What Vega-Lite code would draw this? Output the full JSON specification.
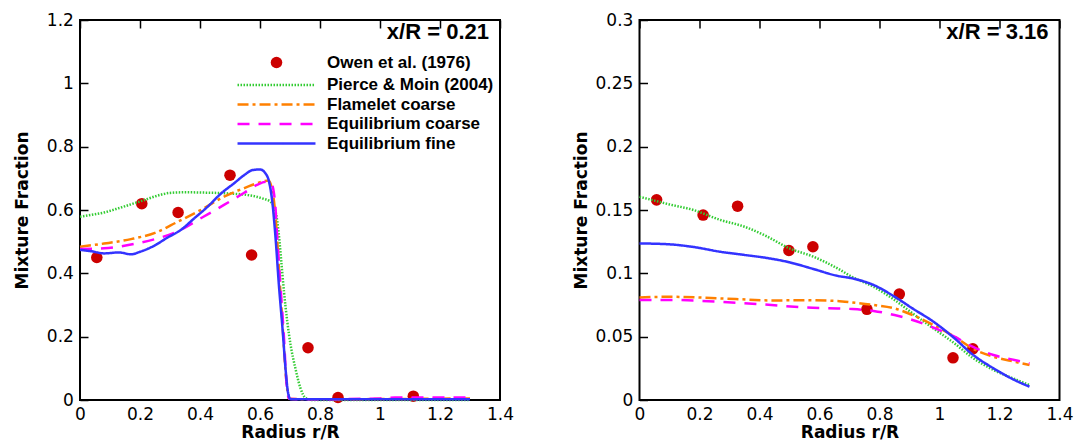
{
  "$schema": "https://vega.github.io/schema/vega-lite/v6.json",
  "background": "white",
  "padding": {"left": 12, "top": 10, "right": 0, "bottom": 0},
  "config": {
    "view": {"stroke": "black", "strokeWidth": 2},
    "axis": {"domain": false, "ticks": false, "grid": true, "zindex": 1, "labelFont": "DejaVu Sans", "labelFontSize": 17, "labelColor": "black", "titleFont": "DejaVu Sans", "titleFontSize": 17, "titleFontWeight": "bold", "titleColor": "black", "gridColor": "black", "gridOpacity": 1, "labelFlush": false, "labelOverlap": false},
    "legend": {"padding": 0}
  },
  "datasets": {
    "left": [
      {"series": "Owen et al. (1976)", "r": 0.056, "z": 0.45},
      {"series": "Owen et al. (1976)", "r": 0.206, "z": 0.62},
      {"series": "Owen et al. (1976)", "r": 0.327, "z": 0.592},
      {"series": "Owen et al. (1976)", "r": 0.5, "z": 0.71},
      {"series": "Owen et al. (1976)", "r": 0.572, "z": 0.458},
      {"series": "Owen et al. (1976)", "r": 0.76, "z": 0.165},
      {"series": "Owen et al. (1976)", "r": 0.86, "z": 0.008},
      {"series": "Owen et al. (1976)", "r": 1.111, "z": 0.012},
      {"series": "Pierce & Moin (2004)", "r": 0, "z": 0.579},
      {"series": "Pierce & Moin (2004)", "r": 0.04, "z": 0.585},
      {"series": "Pierce & Moin (2004)", "r": 0.08, "z": 0.592},
      {"series": "Pierce & Moin (2004)", "r": 0.12, "z": 0.603},
      {"series": "Pierce & Moin (2004)", "r": 0.17, "z": 0.618},
      {"series": "Pierce & Moin (2004)", "r": 0.21, "z": 0.63},
      {"series": "Pierce & Moin (2004)", "r": 0.25, "z": 0.643},
      {"series": "Pierce & Moin (2004)", "r": 0.3, "z": 0.654},
      {"series": "Pierce & Moin (2004)", "r": 0.35, "z": 0.656},
      {"series": "Pierce & Moin (2004)", "r": 0.41, "z": 0.655},
      {"series": "Pierce & Moin (2004)", "r": 0.5, "z": 0.652},
      {"series": "Pierce & Moin (2004)", "r": 0.56, "z": 0.647},
      {"series": "Pierce & Moin (2004)", "r": 0.61, "z": 0.636},
      {"series": "Pierce & Moin (2004)", "r": 0.635, "z": 0.626},
      {"series": "Pierce & Moin (2004)", "r": 0.652, "z": 0.595},
      {"series": "Pierce & Moin (2004)", "r": 0.663, "z": 0.521},
      {"series": "Pierce & Moin (2004)", "r": 0.671, "z": 0.437},
      {"series": "Pierce & Moin (2004)", "r": 0.68, "z": 0.342},
      {"series": "Pierce & Moin (2004)", "r": 0.691, "z": 0.247},
      {"series": "Pierce & Moin (2004)", "r": 0.702, "z": 0.174},
      {"series": "Pierce & Moin (2004)", "r": 0.718, "z": 0.1},
      {"series": "Pierce & Moin (2004)", "r": 0.735, "z": 0.037},
      {"series": "Pierce & Moin (2004)", "r": 0.752, "z": 0.006},
      {"series": "Pierce & Moin (2004)", "r": 0.77, "z": 0},
      {"series": "Pierce & Moin (2004)", "r": 1.3, "z": 0},
      {"series": "Flamelet coarse", "r": 0, "z": 0.484},
      {"series": "Flamelet coarse", "r": 0.08, "z": 0.494},
      {"series": "Flamelet coarse", "r": 0.17, "z": 0.508},
      {"series": "Flamelet coarse", "r": 0.25, "z": 0.528},
      {"series": "Flamelet coarse", "r": 0.32, "z": 0.56},
      {"series": "Flamelet coarse", "r": 0.41, "z": 0.604},
      {"series": "Flamelet coarse", "r": 0.48, "z": 0.642},
      {"series": "Flamelet coarse", "r": 0.55, "z": 0.67},
      {"series": "Flamelet coarse", "r": 0.61, "z": 0.69},
      {"series": "Flamelet coarse", "r": 0.628, "z": 0.693},
      {"series": "Flamelet coarse", "r": 0.645, "z": 0.64},
      {"series": "Flamelet coarse", "r": 0.655, "z": 0.54},
      {"series": "Flamelet coarse", "r": 0.664, "z": 0.4},
      {"series": "Flamelet coarse", "r": 0.675, "z": 0.24},
      {"series": "Flamelet coarse", "r": 0.686, "z": 0.08},
      {"series": "Flamelet coarse", "r": 0.697, "z": 0.005},
      {"series": "Flamelet coarse", "r": 0.75, "z": 0.002},
      {"series": "Flamelet coarse", "r": 1.0, "z": 0.003},
      {"series": "Flamelet coarse", "r": 1.3, "z": 0.005},
      {"series": "Equilibrium coarse", "r": 0, "z": 0.477},
      {"series": "Equilibrium coarse", "r": 0.08, "z": 0.479},
      {"series": "Equilibrium coarse", "r": 0.17, "z": 0.491},
      {"series": "Equilibrium coarse", "r": 0.25, "z": 0.508},
      {"series": "Equilibrium coarse", "r": 0.32, "z": 0.53},
      {"series": "Equilibrium coarse", "r": 0.41, "z": 0.578},
      {"series": "Equilibrium coarse", "r": 0.48, "z": 0.616},
      {"series": "Equilibrium coarse", "r": 0.55, "z": 0.656},
      {"series": "Equilibrium coarse", "r": 0.59, "z": 0.679},
      {"series": "Equilibrium coarse", "r": 0.62, "z": 0.689},
      {"series": "Equilibrium coarse", "r": 0.637, "z": 0.685},
      {"series": "Equilibrium coarse", "r": 0.65, "z": 0.626},
      {"series": "Equilibrium coarse", "r": 0.657, "z": 0.52},
      {"series": "Equilibrium coarse", "r": 0.668, "z": 0.363},
      {"series": "Equilibrium coarse", "r": 0.68, "z": 0.195},
      {"series": "Equilibrium coarse", "r": 0.688, "z": 0.058},
      {"series": "Equilibrium coarse", "r": 0.697, "z": 0.004},
      {"series": "Equilibrium coarse", "r": 0.75, "z": 0.002},
      {"series": "Equilibrium coarse", "r": 1.0, "z": 0.005},
      {"series": "Equilibrium coarse", "r": 1.05, "z": 0.008},
      {"series": "Equilibrium coarse", "r": 1.3, "z": 0.008},
      {"series": "Equilibrium fine", "r": 0, "z": 0.474},
      {"series": "Equilibrium fine", "r": 0.036, "z": 0.47},
      {"series": "Equilibrium fine", "r": 0.08, "z": 0.463},
      {"series": "Equilibrium fine", "r": 0.13, "z": 0.466},
      {"series": "Equilibrium fine", "r": 0.17, "z": 0.46},
      {"series": "Equilibrium fine", "r": 0.2, "z": 0.468},
      {"series": "Equilibrium fine", "r": 0.247, "z": 0.487},
      {"series": "Equilibrium fine", "r": 0.29, "z": 0.512},
      {"series": "Equilibrium fine", "r": 0.336, "z": 0.537},
      {"series": "Equilibrium fine", "r": 0.38, "z": 0.573},
      {"series": "Equilibrium fine", "r": 0.425, "z": 0.61},
      {"series": "Equilibrium fine", "r": 0.47, "z": 0.652},
      {"series": "Equilibrium fine", "r": 0.513, "z": 0.684},
      {"series": "Equilibrium fine", "r": 0.547, "z": 0.71},
      {"series": "Equilibrium fine", "r": 0.575, "z": 0.726},
      {"series": "Equilibrium fine", "r": 0.6, "z": 0.728},
      {"series": "Equilibrium fine", "r": 0.618, "z": 0.716},
      {"series": "Equilibrium fine", "r": 0.63, "z": 0.69},
      {"series": "Equilibrium fine", "r": 0.641, "z": 0.626},
      {"series": "Equilibrium fine", "r": 0.652, "z": 0.51},
      {"series": "Equilibrium fine", "r": 0.663, "z": 0.363},
      {"series": "Equilibrium fine", "r": 0.675, "z": 0.226},
      {"series": "Equilibrium fine", "r": 0.686, "z": 0.089},
      {"series": "Equilibrium fine", "r": 0.693, "z": 0.026},
      {"series": "Equilibrium fine", "r": 0.702, "z": 0.002},
      {"series": "Equilibrium fine", "r": 1.3, "z": 0.002}
    ],
    "right": [
      {"series": "Owen et al. (1976)", "r": 0.057, "z": 0.158},
      {"series": "Owen et al. (1976)", "r": 0.212, "z": 0.146},
      {"series": "Owen et al. (1976)", "r": 0.327, "z": 0.153},
      {"series": "Owen et al. (1976)", "r": 0.498, "z": 0.118},
      {"series": "Owen et al. (1976)", "r": 0.578, "z": 0.121},
      {"series": "Owen et al. (1976)", "r": 0.758, "z": 0.0716},
      {"series": "Owen et al. (1976)", "r": 0.866, "z": 0.0836},
      {"series": "Owen et al. (1976)", "r": 1.045, "z": 0.0333},
      {"series": "Owen et al. (1976)", "r": 1.111, "z": 0.0404},
      {"series": "Pierce & Moin (2004)", "r": 0, "z": 0.1605},
      {"series": "Pierce & Moin (2004)", "r": 0.1, "z": 0.1544},
      {"series": "Pierce & Moin (2004)", "r": 0.18, "z": 0.15},
      {"series": "Pierce & Moin (2004)", "r": 0.27, "z": 0.1421},
      {"series": "Pierce & Moin (2004)", "r": 0.35, "z": 0.1368},
      {"series": "Pierce & Moin (2004)", "r": 0.42, "z": 0.1297},
      {"series": "Pierce & Moin (2004)", "r": 0.5, "z": 0.1197},
      {"series": "Pierce & Moin (2004)", "r": 0.58, "z": 0.1131},
      {"series": "Pierce & Moin (2004)", "r": 0.66, "z": 0.1039},
      {"series": "Pierce & Moin (2004)", "r": 0.71, "z": 0.097},
      {"series": "Pierce & Moin (2004)", "r": 0.78, "z": 0.0894},
      {"series": "Pierce & Moin (2004)", "r": 0.85, "z": 0.079},
      {"series": "Pierce & Moin (2004)", "r": 0.91, "z": 0.0684},
      {"series": "Pierce & Moin (2004)", "r": 0.98, "z": 0.0565},
      {"series": "Pierce & Moin (2004)", "r": 1.05, "z": 0.0447},
      {"series": "Pierce & Moin (2004)", "r": 1.11, "z": 0.0334},
      {"series": "Pierce & Moin (2004)", "r": 1.18, "z": 0.0237},
      {"series": "Pierce & Moin (2004)", "r": 1.25, "z": 0.0166},
      {"series": "Pierce & Moin (2004)", "r": 1.3, "z": 0.0118},
      {"series": "Flamelet coarse", "r": 0, "z": 0.081},
      {"series": "Flamelet coarse", "r": 0.1, "z": 0.0815},
      {"series": "Flamelet coarse", "r": 0.21, "z": 0.0808},
      {"series": "Flamelet coarse", "r": 0.32, "z": 0.0797},
      {"series": "Flamelet coarse", "r": 0.44, "z": 0.0786},
      {"series": "Flamelet coarse", "r": 0.55, "z": 0.0788},
      {"series": "Flamelet coarse", "r": 0.66, "z": 0.0782},
      {"series": "Flamelet coarse", "r": 0.71, "z": 0.077},
      {"series": "Flamelet coarse", "r": 0.78, "z": 0.075},
      {"series": "Flamelet coarse", "r": 0.85, "z": 0.0723},
      {"series": "Flamelet coarse", "r": 0.91, "z": 0.0671},
      {"series": "Flamelet coarse", "r": 0.98, "z": 0.0592},
      {"series": "Flamelet coarse", "r": 1.05, "z": 0.05},
      {"series": "Flamelet coarse", "r": 1.11, "z": 0.0407},
      {"series": "Flamelet coarse", "r": 1.18, "z": 0.0342},
      {"series": "Flamelet coarse", "r": 1.25, "z": 0.0302},
      {"series": "Flamelet coarse", "r": 1.3, "z": 0.0276},
      {"series": "Equilibrium coarse", "r": 0, "z": 0.079},
      {"series": "Equilibrium coarse", "r": 0.1, "z": 0.079},
      {"series": "Equilibrium coarse", "r": 0.21, "z": 0.0782},
      {"series": "Equilibrium coarse", "r": 0.32, "z": 0.0768},
      {"series": "Equilibrium coarse", "r": 0.44, "z": 0.075},
      {"series": "Equilibrium coarse", "r": 0.55, "z": 0.0731},
      {"series": "Equilibrium coarse", "r": 0.66, "z": 0.0723},
      {"series": "Equilibrium coarse", "r": 0.71, "z": 0.0718},
      {"series": "Equilibrium coarse", "r": 0.78, "z": 0.0703},
      {"series": "Equilibrium coarse", "r": 0.85, "z": 0.0671},
      {"series": "Equilibrium coarse", "r": 0.91, "z": 0.0632},
      {"series": "Equilibrium coarse", "r": 0.98, "z": 0.0571},
      {"series": "Equilibrium coarse", "r": 1.05, "z": 0.05},
      {"series": "Equilibrium coarse", "r": 1.11, "z": 0.0421},
      {"series": "Equilibrium coarse", "r": 1.18, "z": 0.0355},
      {"series": "Equilibrium coarse", "r": 1.25, "z": 0.0316},
      {"series": "Equilibrium coarse", "r": 1.3, "z": 0.0289},
      {"series": "Equilibrium fine", "r": 0, "z": 0.1236},
      {"series": "Equilibrium fine", "r": 0.1, "z": 0.1229},
      {"series": "Equilibrium fine", "r": 0.18, "z": 0.1208},
      {"series": "Equilibrium fine", "r": 0.27, "z": 0.117},
      {"series": "Equilibrium fine", "r": 0.35, "z": 0.1145},
      {"series": "Equilibrium fine", "r": 0.42, "z": 0.1123},
      {"series": "Equilibrium fine", "r": 0.5, "z": 0.1087},
      {"series": "Equilibrium fine", "r": 0.58, "z": 0.1034},
      {"series": "Equilibrium fine", "r": 0.66, "z": 0.098},
      {"series": "Equilibrium fine", "r": 0.71, "z": 0.096},
      {"series": "Equilibrium fine", "r": 0.78, "z": 0.0908},
      {"series": "Equilibrium fine", "r": 0.85, "z": 0.0816},
      {"series": "Equilibrium fine", "r": 0.91, "z": 0.0723},
      {"series": "Equilibrium fine", "r": 0.98, "z": 0.0618},
      {"series": "Equilibrium fine", "r": 1.05, "z": 0.0487},
      {"series": "Equilibrium fine", "r": 1.11, "z": 0.036},
      {"series": "Equilibrium fine", "r": 1.18, "z": 0.025},
      {"series": "Equilibrium fine", "r": 1.25, "z": 0.0158},
      {"series": "Equilibrium fine", "r": 1.3, "z": 0.0105}
    ]
  },
  "resolve": {
    "scale": {"fill": "independent", "shape": "independent", "stroke": "independent", "strokeDash": "independent"},
    "legend": {"fill": "independent", "shape": "independent", "stroke": "independent", "strokeDash": "independent"}
  },
  "spacing": 56.5,
  "hconcat": [
    {
      "width": 420,
      "height": 380,
      "data": {"name": "left"},
      "title": {"text": "x/R = 0.21", "orient": "top", "anchor": "end", "frame": "group", "offset": 0, "dy": 50, "dx": -11, "baseline": "alphabetic", "font": "Liberation Sans", "fontSize": 22, "fontWeight": "bold", "color": "black"},
      "resolve": {"axis": {"x": "independent", "y": "independent"}},
      "layer": [
        {
          "transform": [{"filter": "datum.series === 'Owen et al. (1976)'"}],
          "mark": {"type": "point", "filled": true, "size": 133, "opacity": 1, "strokeWidth": 0},
          "encoding": {
            "x": {"field": "r", "type": "quantitative", "scale": {"domain": [0, 1.4], "nice": false, "zero": false},
              "axis": {"orient": "bottom", "values": [0, 0.2, 0.4, 0.6, 0.8, 1, 1.2, 1.4], "format": "~g", "gridDash": [8, 2000], "gridWidth": 1.5, "labelPadding": 6, "title": "Radius r/R", "titleX": 210, "titleY": 37, "titleBaseline": "alphabetic"}},
            "y": {"field": "z", "type": "quantitative", "scale": {"domain": [0, 1.2], "nice": false, "zero": false},
              "axis": {"orient": "left", "values": [0, 0.2, 0.4, 0.6, 0.8, 1, 1.2], "format": "~g", "gridDash": [8, 2000], "gridWidth": 1.5, "labelPadding": 6.6, "title": "Mixture Fraction", "titleX": -52.6, "titleY": 190, "titleBaseline": "alphabetic", "titleAngle": -90}},
            "fill": {"field": "series", "type": "nominal",
              "scale": {"domain": ["Owen et al. (1976)", "Pierce & Moin (2004)", "Flamelet coarse", "Equilibrium coarse", "Equilibrium fine"], "range": ["#cc0000", "transparent", "transparent", "transparent", "transparent"]},
              "legend": {"title": null, "orient": "none", "legendX": 188, "legendY": 34, "symbolSize": 133, "symbolStrokeWidth": 2.5, "symbolFillColor": "transparent", "symbolStrokeColor": "transparent", "labelFont": "Liberation Sans", "labelFontSize": 17, "labelFontWeight": "bold", "labelColor": "black", "labelOffset": 42, "rowPadding": 1.5, "labelLimit": 400}},
            "shape": {"field": "series", "type": "nominal",
              "scale": {"domain": ["Owen et al. (1976)", "Pierce & Moin (2004)", "Flamelet coarse", "Equilibrium coarse", "Equilibrium fine"], "range": ["circle", "M-6.76,0H6.76", "M-6.76,0H6.76", "M-6.76,0H6.76", "M-6.76,0H6.76"]},
              "legend": {"title": null, "orient": "none", "legendX": 188, "legendY": 34, "symbolSize": 133, "symbolStrokeWidth": 2.5, "symbolFillColor": "transparent", "symbolStrokeColor": "transparent", "labelFont": "Liberation Sans", "labelFontSize": 17, "labelFontWeight": "bold", "labelColor": "black", "labelOffset": 42, "rowPadding": 1.5, "labelLimit": 400}}
          }
        },
        {
          "transform": [{"filter": "datum.series !== 'Owen et al. (1976)'"}],
          "mark": {"type": "line", "strokeWidth": 2.5, "interpolate": "monotone"},
          "encoding": {
            "x": {"field": "r", "type": "quantitative", "scale": {"domain": [0, 1.4], "nice": false, "zero": false},
              "axis": {"orient": "bottom", "values": [0.04, 0.08, 0.12, 0.16, 0.24, 0.28, 0.32, 0.36, 0.44, 0.48, 0.52, 0.56, 0.64, 0.68, 0.72, 0.76, 0.84, 0.88, 0.92, 0.96, 1.04, 1.08, 1.12, 1.16, 1.24, 1.28, 1.32, 1.36], "labels": false, "title": null, "gridDash": [4, 2000], "gridWidth": 1, "gridColor": "#444444"}},
            "y": {"field": "z", "type": "quantitative", "scale": {"domain": [0, 1.2], "nice": false, "zero": false},
              "axis": {"orient": "left", "values": [0.04, 0.08, 0.12, 0.16, 0.24, 0.28, 0.32, 0.36, 0.44, 0.48, 0.52, 0.56, 0.64, 0.68, 0.72, 0.76, 0.84, 0.88, 0.92, 0.96, 1.04, 1.08, 1.12, 1.16], "labels": false, "title": null, "gridDash": [4, 2000], "gridWidth": 1, "gridColor": "#444444"}},
            "stroke": {"field": "series", "type": "nominal",
              "scale": {"domain": ["Owen et al. (1976)", "Pierce & Moin (2004)", "Flamelet coarse", "Equilibrium coarse", "Equilibrium fine"], "range": ["transparent", "#33cc33", "#ff8000", "#ff00ff", "#3333ff"]},
              "legend": {"title": null, "orient": "none", "legendX": 188, "legendY": 34, "symbolSize": 133, "symbolStrokeWidth": 2.5, "symbolFillColor": "transparent", "symbolStrokeColor": "transparent", "labelFont": "Liberation Sans", "labelFontSize": 17, "labelFontWeight": "bold", "labelColor": "black", "labelOffset": 42, "rowPadding": 1.5, "labelLimit": 400}},
            "strokeDash": {"field": "series", "type": "nominal",
              "scale": {"domain": ["Owen et al. (1976)", "Pierce & Moin (2004)", "Flamelet coarse", "Equilibrium coarse", "Equilibrium fine"], "range": [[1, 0], [1.5, 1.5], [11, 4, 3, 4], [12, 9], [1, 0]]},
              "legend": {"title": null, "orient": "none", "legendX": 188, "legendY": 34, "symbolSize": 133, "symbolStrokeWidth": 2.5, "symbolFillColor": "transparent", "symbolStrokeColor": "transparent", "labelFont": "Liberation Sans", "labelFontSize": 17, "labelFontWeight": "bold", "labelColor": "black", "labelOffset": 42, "rowPadding": 1.5, "labelLimit": 400}}
          }
        }
      ]
    },
    {
      "width": 420,
      "height": 380,
      "data": {"name": "right"},
      "title": {"text": "x/R = 3.16", "orient": "top", "anchor": "end", "frame": "group", "offset": 0, "dy": 50, "dx": -11, "baseline": "alphabetic", "font": "Liberation Sans", "fontSize": 22, "fontWeight": "bold", "color": "black"},
      "resolve": {"axis": {"x": "independent", "y": "independent"}},
      "layer": [
        {
          "transform": [{"filter": "datum.series === 'Owen et al. (1976)'"}],
          "mark": {"type": "point", "filled": true, "size": 133, "opacity": 1, "strokeWidth": 0, "color": "#cc0000"},
          "encoding": {
            "x": {"field": "r", "type": "quantitative", "scale": {"domain": [0, 1.4], "nice": false, "zero": false},
              "axis": {"orient": "bottom", "values": [0, 0.2, 0.4, 0.6, 0.8, 1, 1.2, 1.4], "format": "~g", "gridDash": [8, 2000], "gridWidth": 1.5, "labelPadding": 6, "title": "Radius r/R", "titleX": 210, "titleY": 37, "titleBaseline": "alphabetic"}},
            "y": {"field": "z", "type": "quantitative", "scale": {"domain": [0, 0.3], "nice": false, "zero": false},
              "axis": {"orient": "left", "values": [0, 0.05, 0.1, 0.15, 0.2, 0.25, 0.3], "format": "~g", "gridDash": [8, 2000], "gridWidth": 1.5, "labelPadding": 6.6, "title": "Mixture Fraction", "titleX": -52.6, "titleY": 190, "titleBaseline": "alphabetic", "titleAngle": -90}}
          }
        },
        {
          "transform": [{"filter": "datum.series !== 'Owen et al. (1976)'"}],
          "mark": {"type": "line", "strokeWidth": 2.5, "interpolate": "monotone"},
          "encoding": {
            "x": {"field": "r", "type": "quantitative", "scale": {"domain": [0, 1.4], "nice": false, "zero": false},
              "axis": {"orient": "bottom", "values": [0.04, 0.08, 0.12, 0.16, 0.24, 0.28, 0.32, 0.36, 0.44, 0.48, 0.52, 0.56, 0.64, 0.68, 0.72, 0.76, 0.84, 0.88, 0.92, 0.96, 1.04, 1.08, 1.12, 1.16, 1.24, 1.28, 1.32, 1.36], "labels": false, "title": null, "gridDash": [4, 2000], "gridWidth": 1, "gridColor": "#444444"}},
            "y": {"field": "z", "type": "quantitative", "scale": {"domain": [0, 0.3], "nice": false, "zero": false},
              "axis": {"orient": "left", "values": [0.01, 0.02, 0.03, 0.04, 0.06, 0.07, 0.08, 0.09, 0.11, 0.12, 0.13, 0.14, 0.16, 0.17, 0.18, 0.19, 0.21, 0.22, 0.23, 0.24, 0.26, 0.27, 0.28, 0.29], "labels": false, "title": null, "gridDash": [4, 2000], "gridWidth": 1, "gridColor": "#444444"}},
            "stroke": {"field": "series", "type": "nominal",
              "scale": {"domain": ["Owen et al. (1976)", "Pierce & Moin (2004)", "Flamelet coarse", "Equilibrium coarse", "Equilibrium fine"], "range": ["transparent", "#33cc33", "#ff8000", "#ff00ff", "#3333ff"]},
              "legend": null},
            "strokeDash": {"field": "series", "type": "nominal",
              "scale": {"domain": ["Owen et al. (1976)", "Pierce & Moin (2004)", "Flamelet coarse", "Equilibrium coarse", "Equilibrium fine"], "range": [[1, 0], [1.5, 1.5], [11, 4, 3, 4], [12, 9], [1, 0]]},
              "legend": null}
          }
        }
      ]
    }
  ]
}
